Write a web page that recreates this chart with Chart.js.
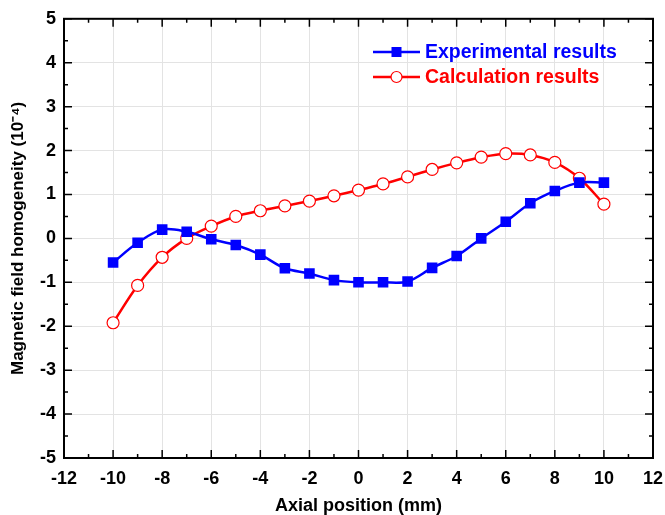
<!DOCTYPE html>
<html>
<head>
<meta charset="utf-8">
<script src="https://cdn.jsdelivr.net/npm/chart.js@4"></script>
<style>
  html, body { margin: 0; padding: 0; background: #fff; }
  #wrap { width: 665px; height: 515px; }
</style>
</head>
<body>
<div id="wrap"><canvas id="grafico"></canvas></div>
<script>
const posicoes = [-10, -9, -8, -7, -6, -5, -4, -3, -2, -1, 0, 1, 2, 3, 4, 5, 6, 7, 8, 9, 10];
const experimental = [-0.55, -0.1, 0.2, 0.15, -0.02, -0.15, -0.37, -0.68, -0.8, -0.95, -1.0, -1.0, -0.98, -0.67, -0.4, 0.0, 0.38, 0.8, 1.08, 1.27, 1.27];
const calculado = [-1.92, -1.07, -0.43, 0.0, 0.28, 0.5, 0.63, 0.74, 0.85, 0.97, 1.1, 1.24, 1.4, 1.57, 1.72, 1.85, 1.93, 1.9, 1.73, 1.37, 0.78];
const nomes = ['Experimental results', 'Calculation results'];
const xTitulo = 'Axial position (mm)';
const yTitulo = 'Magnetic field homogeneity (10\u207B\u2074)';

const fonte = "'Liberation Sans', Arial, sans-serif";

function pares(ys) {
    return posicoes.map((x, i) => ({ x: x, y: ys[i] }));
}

// ticks para dentro, nos quatro lados, com minor ticks
const moldura = {
    id: 'moldura',
    afterDraw(chart) {
        const { ctx, chartArea: a, scales } = chart;
        ctx.save();
        ctx.strokeStyle = '#000';
        ctx.lineWidth = 2;
        ctx.strokeRect(a.left, a.top, a.right - a.left, a.bottom - a.top);
        ctx.lineWidth = 1.5;
        ctx.beginPath();
        for (let v = -12; v <= 12; v += 1) {
            const px = scales.x.getPixelForValue(v);
            const len = v % 2 === 0 ? 8 : 4;
            ctx.moveTo(px, a.bottom); ctx.lineTo(px, a.bottom - len);
            ctx.moveTo(px, a.top); ctx.lineTo(px, a.top + len);
        }
        for (let v = -5; v <= 5; v += 0.5) {
            const py = scales.y.getPixelForValue(v);
            const len = Number.isInteger(v) ? 8 : 4;
            ctx.moveTo(a.left, py); ctx.lineTo(a.left + len, py);
            ctx.moveTo(a.right, py); ctx.lineTo(a.right - len, py);
        }
        ctx.stroke();
        ctx.restore();
    }
};

// legenda dentro do grafico, com texto na cor da serie
const legenda = {
    id: 'legenda',
    afterDatasetsDraw(chart) {
        const { ctx } = chart;
        ctx.save();
        ctx.font = 'bold 19.5px ' + fonte;
        ctx.textBaseline = 'middle';
        chart.data.datasets.forEach((ds, i) => {
            const y = 52 + i * 25;
            const x0 = 373, x1 = 420;
            ctx.strokeStyle = ds.borderColor;
            ctx.lineWidth = 2.5;
            ctx.beginPath(); ctx.moveTo(x0, y); ctx.lineTo(x1, y); ctx.stroke();
            const cx = (x0 + x1) / 2;
            ctx.lineWidth = 1.2;
            if (ds.pointStyle === 'rect') {
                ctx.fillStyle = ds.borderColor;
                ctx.fillRect(cx - 5, y - 5, 10, 10);
            } else {
                ctx.fillStyle = '#fff';
                ctx.beginPath(); ctx.arc(cx, y, 5.5, 0, Math.PI * 2); ctx.fill(); ctx.stroke();
            }
            ctx.fillStyle = ds.borderColor;
            ctx.fillText(ds.label, x1 + 5, y + 1);
        });
        ctx.restore();
    }
};

function criarGrafico() {
    const ctx = document.getElementById('grafico');
    return new Chart(ctx, {
        type: 'line',
        data: {
            datasets: [{
                label: nomes[0],
                data: pares(experimental),
                borderColor: '#0000ff',
                backgroundColor: '#0000ff',
                borderWidth: 2.5,
                pointStyle: 'rect',
                pointRadius: 7.5,
                pointBorderWidth: 0,
                tension: 0.35
            }, {
                label: nomes[1],
                data: pares(calculado),
                borderColor: '#ff0000',
                backgroundColor: '#ffffff',
                borderWidth: 2.5,
                pointStyle: 'circle',
                pointRadius: 6,
                pointBorderWidth: 1.2,
                tension: 0.35
            }]
        },
        options: {
            responsive: true,
            maintainAspectRatio: false,
            animation: false,
            layout: { padding: { top: 16, right: 0, left: 4, bottom: 0 } },
            scales: {
                x: {
                    type: 'linear',
                    min: -12, max: 12,
                    ticks: { stepSize: 2, color: '#000', padding: 10, font: { size: 18, weight: 'bold', family: fonte } },
                    grid: { color: '#e3e3e3', drawTicks: false },
                    border: { display: false },
                    title: { display: true, text: xTitulo, color: '#000', padding: { top: 0, bottom: -2 }, font: { size: 18, weight: 'bold', family: fonte } },
                    afterFit(s) {
                        s.height = 57;
                        s.paddingRight = 12;
                        s.paddingLeft = 0;
                    }
                },
                y: {
                    min: -5, max: 5,
                    ticks: { stepSize: 1, color: '#000', padding: 8, font: { size: 18, weight: 'bold', family: fonte } },
                    grid: { color: '#e3e3e3', drawTicks: false },
                    border: { display: false },
                    title: { display: true, text: yTitulo, color: '#000', padding: { bottom: 2 }, font: { size: 17, weight: 'bold', family: fonte } },
                    afterFit(s) { s.width = 60; }
                }
            },
            plugins: {
                legend: { display: false },
                tooltip: { enabled: false }
            }
        },
        plugins: [moldura, legenda]
    });
}

criarGrafico();
</script>
</body>
</html>
